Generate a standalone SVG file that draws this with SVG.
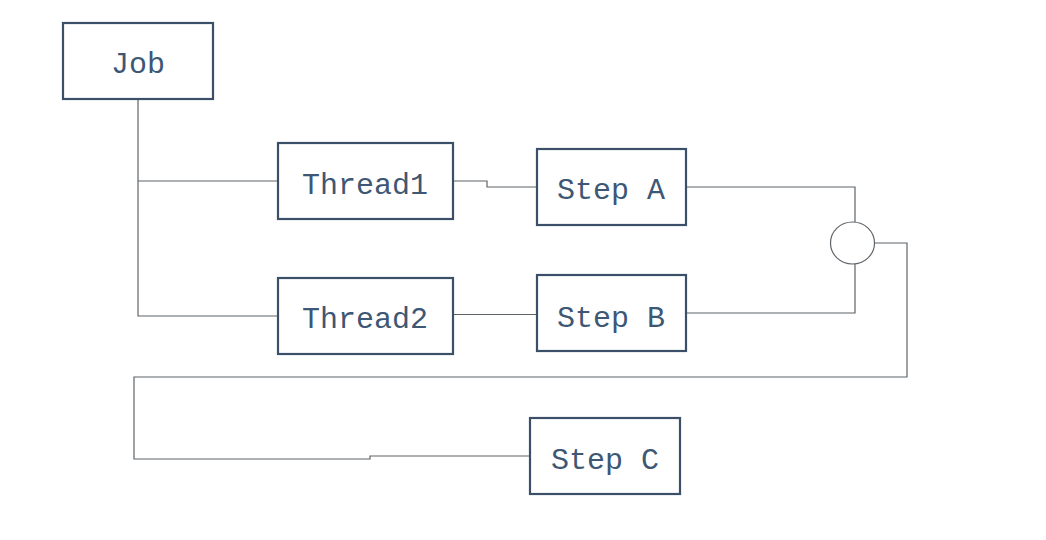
<svg xmlns="http://www.w3.org/2000/svg" width="1046" height="540" viewBox="0 0 1046 540">
<style>
.box{fill:#fff;stroke:#3b5068;stroke-width:2.2}
.lbl{font-family:"Liberation Mono","Courier New",monospace;font-size:30px;fill:#3d5775;text-anchor:middle}
.ln{fill:none;stroke:#5f6468;stroke-width:1.2}
</style>
<rect width="1046" height="540" fill="#fff"/>
<g id="connectors">
<path class="ln" d="M138,99 V316 H278"/>
<path class="ln" d="M138,181 H278"/>
<path class="ln" d="M453,181 H487 V187 H537"/>
<path class="ln" d="M453,314.5 H537"/>
<path class="ln" d="M686,187 H855 V222"/>
<path class="ln" d="M686,313 H855 V264"/>
<path class="ln" d="M875,243 H907 V377 H134 V459 H370 V456 H530"/>
</g>
<g id="merge"><ellipse class="ln" cx="852.5" cy="243" rx="22" ry="21"/></g>
<g id="job"><rect class="box" x="63" y="23" width="150" height="76"/><text class="lbl" x="138" y="73">Job</text></g>
<g id="thread1"><rect class="box" x="278" y="143" width="175" height="76"/><text class="lbl" x="365" y="194">Thread1</text></g>
<g id="thread2"><rect class="box" x="278" y="278" width="175" height="76"/><text class="lbl" x="365" y="328">Thread2</text></g>
<g id="stepA"><rect class="box" x="537" y="149" width="149" height="76"/><text class="lbl" x="611" y="199">Step A</text></g>
<g id="stepB"><rect class="box" x="537" y="275" width="149" height="76"/><text class="lbl" x="611" y="327">Step B</text></g>
<g id="stepC"><rect class="box" x="530" y="418" width="150" height="76"/><text class="lbl" x="605" y="469">Step C</text></g>
</svg>
